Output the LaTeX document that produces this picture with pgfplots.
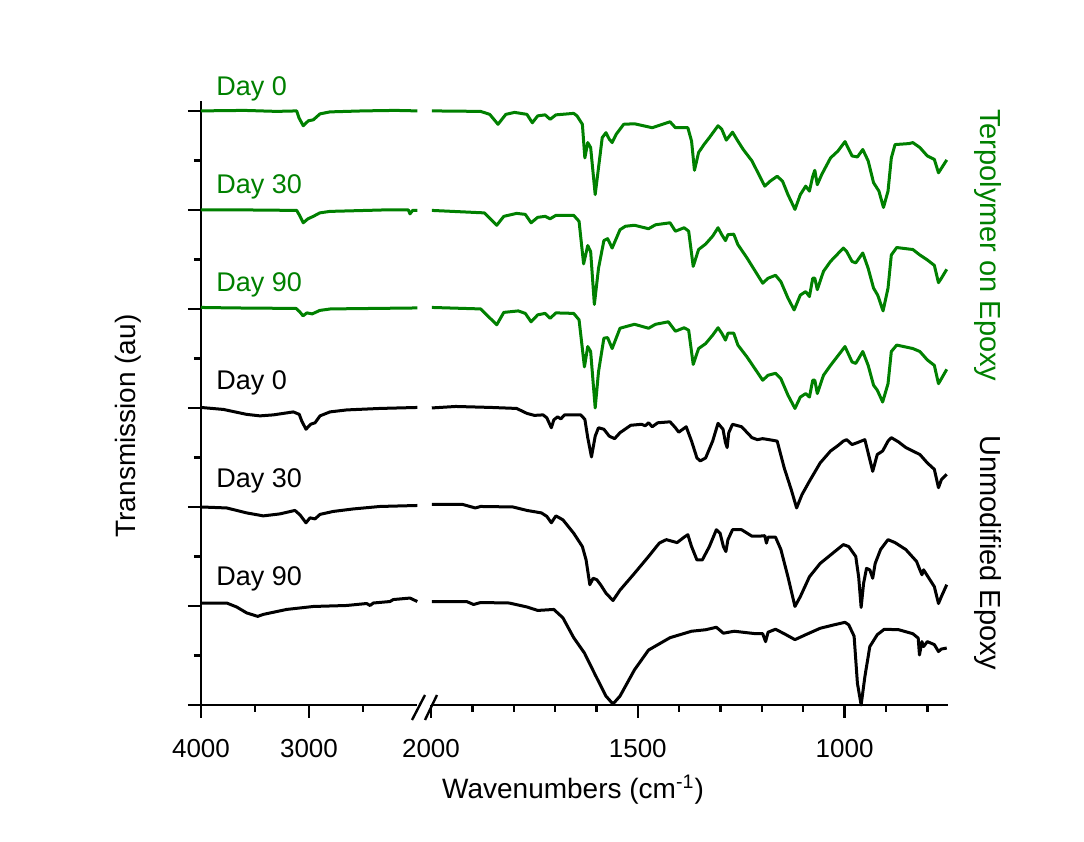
\documentclass[border=0pt]{standalone}
\usepackage{pgfplots}
\pgfplotsset{compat=1.18}
\usepackage{fontspec}
\setmainfont{Liberation Sans}
\definecolor{grn}{RGB}{0,128,0}
\begin{document}
\begin{tikzpicture}
\useasboundingbox (0,0) rectangle (542pt,421pt);
\pgfplotsset{brk/.style={scale only axis, height=302pt, ymin=0, ymax=12.2, x dir=reverse,
  tick align=outside, major tick length=6.5pt, minor tick length=3.5pt,
  tick style={black, line width=1.2pt},
  axis line style={line width=1.4pt},
  every inner x axis line/.append style={-}, every inner y axis line/.append style={-},
  every outer x axis line/.append style={-}, every outer y axis line/.append style={-},
  tick label style={font=\fontsize{13}{15}\selectfont},
  /pgf/number format/assume math mode=true, /pgf/number format/set thousands separator={},
  xticklabel style={yshift=-7pt}, clip=false,
  every axis plot/.append style={line width=1.5pt, line join=round}}}
% ---------------- left segment (4000-2000) ----------------
\begin{axis}[brk, at={(100.5pt,68.5pt)}, anchor=south west, width=108pt,
  xmin=2000, xmax=4000, axis x line*=bottom, axis y line*=left,
  xtick={3000,4000}, minor xtick={2500,3500},
  ytick={0,2,...,12}, minor ytick={1,3,...,11}, yticklabels={}]
\addplot[grn] coordinates {(4000,12.00)(3600,12.01)(3300,11.99)(3114,12.00)(3093,11.86)(3053,11.70)(3006,11.80)(2960,11.82)(2898,11.94)(2806,11.98)(2500,12.00)(2200,12.01)(1997,12.00)};
\addplot[grn] coordinates {(4000,10.00)(3600,10.00)(3114,9.99)(3090,9.90)(3053,9.74)(3010,9.82)(2960,9.87)(2900,9.94)(2806,9.97)(2300,10.00)(2080,10.00)(2065,9.92)(2040,9.99)(1997,9.99)};
\addplot[grn] coordinates {(4000,8.03)(3700,8.02)(3120,8.01)(3085,7.94)(3055,7.86)(3020,7.92)(2970,7.90)(2900,7.97)(2800,8.00)(2400,8.01)(1997,8.02)};
\addplot[black] coordinates {(4000,6.01)(3793,5.97)(3577,5.87)(3454,5.84)(3330,5.86)(3145,5.92)(3090,5.87)(3068,5.74)(3028,5.57)(2985,5.67)(2944,5.70)(2898,5.84)(2806,5.92)(2651,5.96)(2343,5.99)(1997,6.01)};
\addplot[black] coordinates {(4000,4.00)(3762,3.98)(3577,3.88)(3423,3.82)(3269,3.86)(3130,3.93)(3083,3.84)(3028,3.68)(2991,3.78)(2944,3.76)(2898,3.85)(2775,3.91)(2590,3.96)(2343,4.01)(1997,4.03)};
\addplot[black] coordinates {(4000,2.06)(3762,2.06)(3670,1.98)(3577,1.86)(3475,1.79)(3423,1.83)(3207,1.93)(2960,1.99)(2651,2.01)(2466,2.05)(2435,2.01)(2404,2.06)(2250,2.09)(2219,2.13)(2065,2.16)(1997,2.09)};
\end{axis}
% ---------------- right segment (2000-750) ----------------
\begin{axis}[brk, at={(215.5pt,68.5pt)}, anchor=south west, width=258.5pt,
  xmin=750, xmax=2000, axis x line*=bottom, axis y line=none,
  xtick={1000,1500,2000}, minor xtick={800,900,1100,1200,1300,1400,1600,1700,1800,1900}]
\addplot[grn] coordinates {(1998,12.00)(1880,11.99)(1858,11.93)(1838,11.73)(1819,11.93)(1798,11.97)(1768,11.93)(1755,11.76)(1742,11.90)(1724,11.92)(1712,11.83)(1698,11.92)(1655,11.95)(1647,11.90)(1634,11.73)(1628,11.05)(1621,11.36)(1614,11.26)(1603,10.31)(1595,10.85)(1586,11.46)(1577,11.56)(1569,11.43)(1562,11.36)(1552,11.53)(1534,11.73)(1508,11.74)(1465,11.66)(1422,11.78)(1409,11.66)(1379,11.66)(1370,11.39)(1363,10.80)(1353,11.16)(1340,11.32)(1327,11.46)(1306,11.70)(1297,11.63)(1286,11.41)(1271,11.57)(1258,11.39)(1245,11.22)(1224,10.99)(1193,10.48)(1180,10.58)(1163,10.68)(1150,10.58)(1137,10.31)(1120,10.01)(1107,10.31)(1094,10.48)(1085,10.38)(1077,10.68)(1072,10.80)(1066,10.51)(1055,10.72)(1034,11.05)(1016,11.19)(999,11.38)(982,11.09)(969,11.07)(956,11.22)(943,10.99)(930,10.55)(917,10.38)(906,10.05)(895,10.38)(887,11.05)(878,11.32)(844,11.34)(835,11.36)(818,11.26)(800,11.09)(783,11.02)(773,10.75)(766,10.84)(753,11.01)};
\addplot[grn] coordinates {(1998,9.99)(1871,9.94)(1841,9.69)(1824,9.87)(1793,9.93)(1772,9.91)(1758,9.74)(1742,9.85)(1724,9.87)(1712,9.82)(1698,9.89)(1655,9.89)(1642,9.77)(1631,8.91)(1621,9.28)(1614,9.16)(1605,8.09)(1595,8.82)(1582,9.38)(1573,9.42)(1562,9.23)(1543,9.60)(1530,9.67)(1508,9.69)(1474,9.62)(1457,9.70)(1422,9.74)(1409,9.57)(1388,9.64)(1377,9.57)(1366,8.86)(1353,9.20)(1336,9.31)(1319,9.47)(1306,9.64)(1297,9.50)(1288,9.38)(1282,9.50)(1268,9.51)(1258,9.30)(1236,9.03)(1198,8.52)(1185,8.62)(1167,8.68)(1154,8.55)(1137,8.22)(1122,7.98)(1107,8.28)(1094,8.35)(1085,8.25)(1077,8.62)(1072,8.62)(1066,8.39)(1051,8.76)(1034,8.96)(1003,9.23)(995,9.16)(982,8.96)(973,8.93)(956,9.13)(943,8.82)(930,8.42)(920,8.28)(907,7.96)(895,8.42)(887,9.09)(874,9.24)(835,9.20)(818,9.09)(800,8.99)(783,8.88)(773,8.53)(766,8.62)(753,8.80)};
\addplot[grn] coordinates {(1998,8.03)(1880,8.00)(1841,7.68)(1824,7.93)(1789,7.96)(1772,7.91)(1758,7.74)(1742,7.88)(1724,7.91)(1712,7.81)(1698,7.92)(1655,7.91)(1642,7.78)(1629,6.83)(1621,7.24)(1614,7.14)(1603,6.00)(1595,6.73)(1582,7.41)(1573,7.42)(1562,7.20)(1543,7.61)(1530,7.64)(1508,7.69)(1474,7.61)(1457,7.69)(1426,7.74)(1409,7.55)(1388,7.62)(1377,7.57)(1366,6.88)(1353,7.20)(1336,7.30)(1319,7.47)(1306,7.62)(1297,7.51)(1288,7.37)(1282,7.51)(1268,7.51)(1258,7.27)(1236,7.03)(1198,6.56)(1185,6.66)(1167,6.70)(1154,6.59)(1137,6.26)(1120,5.99)(1107,6.22)(1094,6.29)(1085,6.22)(1077,6.56)(1072,6.56)(1066,6.29)(1051,6.66)(1034,6.86)(999,7.24)(982,6.93)(973,6.90)(956,7.14)(943,6.86)(930,6.46)(921,6.36)(908,6.12)(895,6.49)(887,7.14)(874,7.27)(835,7.20)(818,7.14)(800,6.97)(783,6.86)(773,6.49)(766,6.59)(753,6.78)};
\addplot[black] coordinates {(1998,6.00)(1940,6.03)(1854,6.01)(1793,5.99)(1768,5.89)(1750,5.85)(1729,5.86)(1720,5.80)(1709,5.60)(1703,5.76)(1694,5.82)(1686,5.78)(1677,5.86)(1638,5.86)(1628,5.77)(1621,5.40)(1612,5.01)(1603,5.43)(1595,5.60)(1582,5.57)(1569,5.43)(1556,5.38)(1543,5.50)(1517,5.65)(1491,5.67)(1482,5.64)(1474,5.70)(1465,5.62)(1452,5.70)(1422,5.72)(1409,5.60)(1401,5.51)(1383,5.62)(1370,5.33)(1357,4.99)(1349,4.93)(1336,4.99)(1319,5.33)(1306,5.69)(1294,5.57)(1288,5.30)(1284,5.20)(1280,5.50)(1271,5.67)(1249,5.62)(1224,5.40)(1211,5.36)(1198,5.38)(1176,5.35)(1163,5.33)(1146,4.79)(1129,4.35)(1116,3.98)(1103,4.25)(1085,4.52)(1059,4.89)(1034,5.13)(1016,5.24)(1003,5.33)(995,5.36)(982,5.26)(969,5.30)(951,5.36)(943,5.09)(932,4.72)(921,5.06)(908,5.13)(895,5.33)(887,5.40)(869,5.31)(852,5.20)(818,5.06)(800,4.89)(783,4.76)(773,4.39)(766,4.55)(753,4.66)};
\addplot[black] coordinates {(1998,4.05)(1923,4.05)(1893,3.98)(1880,4.01)(1802,4.00)(1768,3.93)(1733,3.88)(1720,3.81)(1709,3.68)(1698,3.82)(1681,3.74)(1655,3.47)(1634,3.20)(1625,2.93)(1616,2.43)(1608,2.56)(1599,2.53)(1590,2.43)(1577,2.26)(1560,2.11)(1543,2.32)(1508,2.66)(1474,3.00)(1448,3.27)(1431,3.34)(1405,3.28)(1388,3.39)(1379,3.44)(1370,3.20)(1357,2.93)(1344,2.93)(1327,3.20)(1310,3.54)(1301,3.47)(1293,3.20)(1287,3.10)(1282,3.34)(1271,3.54)(1249,3.54)(1224,3.41)(1206,3.41)(1193,3.42)(1189,3.27)(1185,3.39)(1167,3.39)(1154,3.14)(1137,2.59)(1120,1.99)(1107,2.19)(1085,2.59)(1059,2.86)(1034,3.03)(1003,3.24)(990,3.20)(973,3.00)(966,2.59)(960,1.97)(954,2.46)(947,2.76)(939,2.73)(932,2.56)(926,2.86)(913,3.14)(895,3.34)(878,3.28)(852,3.14)(826,2.90)(818,2.73)(813,2.63)(809,2.73)(796,2.56)(783,2.39)(773,2.05)(766,2.19)(753,2.43)};
\addplot[black] coordinates {(1998,2.09)(1914,2.09)(1897,2.03)(1880,2.07)(1811,2.06)(1768,1.98)(1742,1.91)(1703,1.93)(1681,1.76)(1655,1.36)(1629,1.05)(1603,0.61)(1577,0.18)(1560,0.02)(1543,0.18)(1508,0.71)(1474,1.11)(1422,1.36)(1370,1.49)(1336,1.52)(1310,1.57)(1293,1.45)(1267,1.49)(1215,1.44)(1198,1.44)(1191,1.28)(1185,1.47)(1167,1.53)(1146,1.44)(1120,1.32)(1094,1.42)(1059,1.55)(1025,1.62)(999,1.67)(990,1.62)(977,1.39)(969,0.44)(960,0.00)(951,0.57)(939,1.18)(921,1.42)(904,1.53)(869,1.52)(835,1.44)(822,1.35)(819,1.01)(813,1.28)(809,1.18)(800,1.28)(783,1.22)(773,1.08)(766,1.13)(753,1.15)};
\end{axis}
% break marks
\draw[line width=1.2pt] (206pt,61pt) -- (212.5pt,73.5pt);
\draw[line width=1.2pt] (212.5pt,61pt) -- (218.5pt,73.5pt);
% labels
\node[rotate=90, font=\fontsize{14}{16}\selectfont] at (64pt,208pt) {Transmission (au)};
\node[anchor=base, font=\fontsize{14}{16}\selectfont] at (286.5pt,21.5pt) {Wavenumbers (cm\textsuperscript{-1})};
\node[rotate=-90, anchor=west, text=grn, font=\fontsize{14.5}{16}\selectfont] at (494pt,370pt) {Terpolymer on Epoxy};
\node[rotate=-90, anchor=west, font=\fontsize{14.5}{16}\selectfont] at (494pt,207pt) {Unmodified Epoxy};
\begin{scope}[every node/.style={anchor=base west, font=\fontsize{13.5}{15}\selectfont, inner sep=0pt}]
\node[text=grn] at (108pt,373pt) {Day 0};
\node[text=grn] at (108pt,324pt) {Day 30};
\node[text=grn] at (108pt,275pt) {Day 90};
\node at (108pt,226pt) {Day 0};
\node at (108pt,177pt) {Day 30};
\node at (108pt,128pt) {Day 90};
\end{scope}
\end{tikzpicture}
\end{document}
